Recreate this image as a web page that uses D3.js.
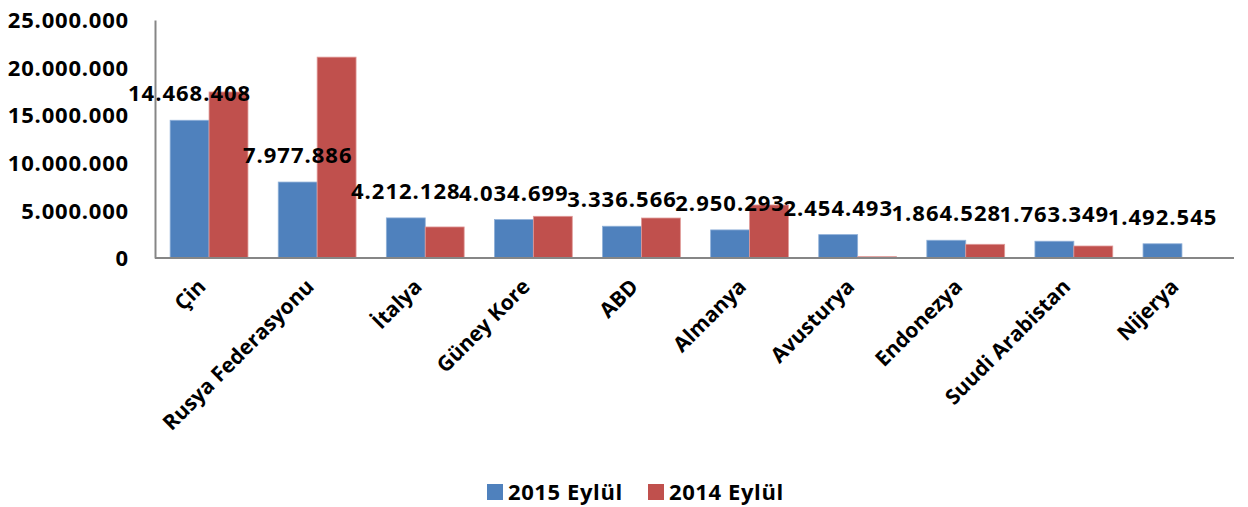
<!DOCTYPE html>
<html>
<head>
<meta charset="utf-8">
<script src="https://cdn.jsdelivr.net/npm/d3@7"></script>
<style>
  body { margin: 0; background: #fff; }
  text { font-family: "Open Sans", sans-serif; font-weight: bold; fill: #000; }
</style>
</head>
<body>
<div id="chart"></div>
<script>
const WIDTH = 1248;
const HEIGHT = 507;

// countries and values
const countries = ['Çin', 'Rusya Federasyonu', 'İtalya', 'Güney Kore', 'ABD',
  'Almanya', 'Avusturya', 'Endonezya', 'Suudi Arabistan', 'Nijerya'];
const values2015 = [14468408, 7977886, 4212128, 4034699, 3336566,
  2950293, 2454493, 1864528, 1763349, 1492545];
const values2014 = [17440000, 21100000, 3260000, 4380000, 4200000,
  5570000, 140000, 1440000, 1260000, 0];
const seriesNames = ['2015 Eylül', '2014 Eylül'];
const yTicks = [0, 5000000, 10000000, 15000000, 20000000, 25000000];

const colors = ['#4F81BD', '#C0504D'];
const margin = { top: 20, right: 12, bottom: 249, left: 155 };

// Turkish number format: dots for thousands
const fmt = d3.formatLocale({ decimal: ',', thousands: '.', grouping: [3], currency: ['', ''] }).format(',');

const svg = d3.select('#chart')
  .append('svg')
  .attr('width', WIDTH)
  .attr('height', HEIGHT);

const x = d3.scaleBand()
  .domain(countries)
  .range([margin.left, WIDTH - margin.right])
  .paddingInner(0.28)
  .paddingOuter(0.14);

const x1 = d3.scaleBand()
  .domain([0, 1])
  .range([0, x.bandwidth()]);

const y = d3.scaleLinear()
  .domain([0, 25000000])
  .range([HEIGHT - margin.bottom, margin.top]);

const rows = countries.map((c, i) => ({ country: c, vals: [values2015[i], values2014[i]] }));

// bars
const groups = svg.append('g')
  .selectAll('g')
  .data(rows)
  .enter()
  .append('g')
  .attr('transform', d => `translate(${x(d.country)},0)`);

groups.selectAll('rect')
  .data(d => d.vals.map((v, k) => ({ v, k })).filter(d => d.v > 0))
  .enter()
  .append('rect')
  .attr('x', d => x1(d.k))
  .attr('y', d => y(d.v))
  .attr('width', x1.bandwidth())
  .attr('height', d => y(0) - y(d.v))
  .attr('fill', d => colors[d.k])
  .attr('stroke', d => d.k === 0 ? '#8fb0d8' : '#e09a98')
  .attr('stroke-width', 0.8);

// y axis (labels only, plus the axis line)
const yAxis = svg.append('g')
  .attr('transform', `translate(${margin.left},0)`)
  .call(d3.axisLeft(y).tickValues(yTicks).tickFormat(fmt).tickSize(0).tickPadding(26));
yAxis.select('.domain').attr('stroke', '#868686').attr('stroke-width', 2);
yAxis.selectAll('text').style('font-size', '22px').style('letter-spacing', '0.8px').attr('dy', '0.35em');

// x axis
const xAxis = svg.append('g')
  .attr('transform', `translate(0,${y(0)})`)
  .call(d3.axisBottom(x).tickSize(0).tickFormat(''));
xAxis.select('.domain').attr('stroke', '#868686').attr('stroke-width', 2)
  .attr('d', `M${margin.left},0H${WIDTH - margin.right - 2}`);

// rotated category labels
svg.append('g')
  .selectAll('text')
  .data(countries)
  .enter()
  .append('text')
  .attr('text-anchor', 'end')
  .attr('transform', d => `translate(${x(d) + x.bandwidth() / 2 - 2},${y(0) + 30})rotate(-45)`)
  .style('font-size', '21px')
  .text(d => d);

// data labels for the 2015 series
groups.append('text')
  .attr('text-anchor', 'middle')
  .attr('x', x1(0) + x1.bandwidth() / 2)
  .attr('y', d => y(d.vals[0]) - 19)
  .style('font-size', '22px')
  .style('letter-spacing', '1px')
  .text(d => fmt(d.vals[0]));

// legend
const legend = svg.append('g')
  .selectAll('g')
  .data(seriesNames)
  .enter()
  .append('g')
  .attr('transform', (d, i) => `translate(${487 + i * 161},484)`);

legend.append('rect')
  .attr('width', 16)
  .attr('height', 16)
  .attr('fill', (d, i) => colors[i]);

legend.append('text')
  .attr('x', 21)
  .attr('y', 8)
  .attr('dy', '0.35em')
  .style('font-size', '22px')
  .style('letter-spacing', '0.6px')
  .text(d => d);
</script>
</body>
</html>
